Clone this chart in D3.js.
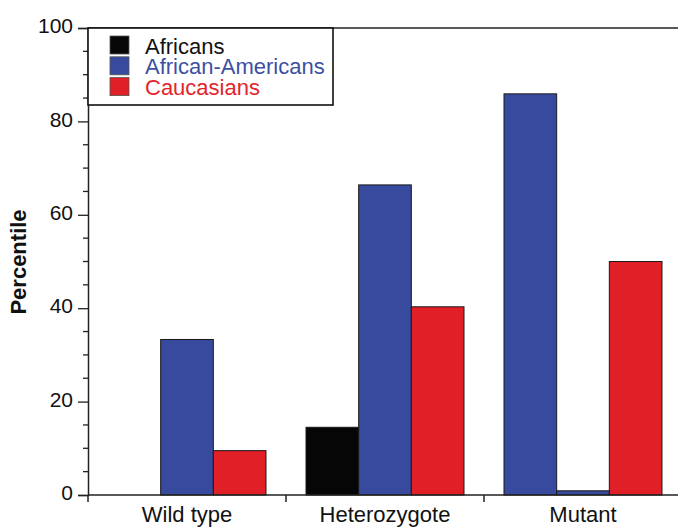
<!DOCTYPE html>
<html>
<head>
<meta charset="utf-8">
<script src="https://cdn.jsdelivr.net/npm/d3@7"></script>
<style>
  html, body { margin: 0; padding: 0; background: #fff; }
  svg { display: block; font-family: "Liberation Sans", Arial, sans-serif; }
</style>
</head>
<body>
<svg id="chart" width="678" height="527"></svg>
<script>
// Genotype frequencies (%) by population
const categories = ["Wild type", "Heterozygote", "Mutant"];
const seriesNames = ["Africans", "African-Americans", "Caucasians"];
const africans = [0, 14.5, 85.9];
const africanAmericans = [33.3, 66.4, 0.9];
const caucasians = [9.5, 40.3, 50.0];
const yTicks = [0, 20, 40, 60, 80, 100];

(function () {
  const seriesValues = [africans, africanAmericans, caucasians];
  const colors = { "Africans": "#060606", "African-Americans": "#374a9e", "Caucasians": "#e11f26" };
  const textColors = { "Africans": "#111111", "African-Americans": "#3d50a3", "Caucasians": "#e3242b" };
  // the Africans bar in the Mutant group is printed in blue
  const fillOverride = { "Mutant|Africans": "#374a9e" };

  const svg = d3.select("#chart");
  const W = 678;
  const plotLeft = 88, plotTop = 28, plotBottom = 495;

  const x0 = d3.scaleBand().domain(categories).range([plotLeft, plotLeft + 198 * 3]).paddingInner(0).paddingOuter(0);
  const x1 = d3.scaleBand().domain(seriesNames).range([0, x0.bandwidth()]).paddingInner(0).paddingOuter(0.38);
  const y = d3.scaleLinear().domain([0, 100]).range([plotBottom, plotTop]);

  const rows = [];
  categories.forEach((c, ci) => {
    seriesNames.forEach((s, si) => {
      rows.push({ cat: c, series: s, value: seriesValues[si][ci] });
    });
  });

  // bars
  svg.append("g").selectAll("rect").data(rows).join("rect")
    .attr("x", d => x0(d.cat) + x1(d.series))
    .attr("y", d => y(d.value))
    .attr("width", x1.bandwidth())
    .attr("height", d => y(0) - y(d.value))
    .attr("fill", d => fillOverride[d.cat + "|" + d.series] || colors[d.series])
    .attr("stroke", "#1a1a1a")
    .attr("stroke-width", 1);

  const lineColor = "#222";

  // frame lines: top and baseline run to the right edge
  svg.append("line").attr("x1", plotLeft).attr("x2", W).attr("y1", plotTop).attr("y2", plotTop)
    .attr("stroke", lineColor).attr("stroke-width", 1.5);
  svg.append("line").attr("x1", plotLeft).attr("x2", W).attr("y1", plotBottom).attr("y2", plotBottom)
    .attr("stroke", lineColor).attr("stroke-width", 1.5);

  // y axis
  const yAxis = d3.axisLeft(y).tickValues(yTicks).tickSize(10).tickPadding(5).tickFormat(d3.format("d"));
  const gy = svg.append("g").attr("transform", `translate(${plotLeft},0)`).call(yAxis);
  gy.select(".domain").attr("stroke", lineColor).attr("stroke-width", 1.5);
  gy.selectAll(".tick line").attr("stroke", lineColor).attr("stroke-width", 1.3);
  gy.selectAll(".tick text").attr("font-size", 21).attr("fill", "#111").attr("dy", "0.22em")
    .attr("font-family", "'Liberation Sans', Arial, sans-serif");

  // minor ticks every 5
  const minor = d3.range(0, 101, 5).filter(v => v % 20 !== 0);
  svg.append("g").selectAll("line").data(minor).join("line")
    .attr("x1", plotLeft - 5).attr("x2", plotLeft)
    .attr("y1", d => y(d)).attr("y2", d => y(d))
    .attr("stroke", lineColor).attr("stroke-width", 1.3);

  // category boundary ticks below the baseline
  const bounds = categories.map(c => x0(c));
  svg.append("g").selectAll("line").data(bounds).join("line")
    .attr("x1", d => d).attr("x2", d => d)
    .attr("y1", plotBottom).attr("y2", plotBottom + 7)
    .attr("stroke", lineColor).attr("stroke-width", 1.5);

  // category labels
  svg.append("g").selectAll("text").data(categories).join("text")
    .attr("x", d => x0(d) + x0.bandwidth() / 2)
    .attr("y", 522)
    .attr("text-anchor", "middle")
    .attr("font-size", 22)
    .attr("fill", "#111")
    .text(d => d);

  // y label
  svg.append("text")
    .attr("transform", "translate(26,262) rotate(-90)")
    .attr("text-anchor", "middle")
    .attr("font-size", 22)
    .attr("font-weight", "bold")
    .attr("fill", "#111")
    .text("Percentile");

  // legend
  const lg = svg.append("g");
  lg.append("rect").attr("x", plotLeft).attr("y", plotTop).attr("width", 245).attr("height", 77)
    .attr("fill", "#fff").attr("stroke", "#111").attr("stroke-width", 1.6);
  const items = lg.selectAll("g.item").data(seriesNames).join("g").attr("class", "item")
    .attr("transform", (d, i) => `translate(0,${i * 20.8})`);
  items.append("rect").attr("x", 110).attr("y", 36).attr("width", 19).attr("height", 18)
    .attr("fill", d => colors[d]).attr("stroke", "#555").attr("stroke-width", 0.8);
  items.append("text").attr("x", 145).attr("y", 53.5)
    .attr("font-size", 22)
    .attr("fill", d => textColors[d])
    .text(d => d);
})();
</script>
</body>
</html>
